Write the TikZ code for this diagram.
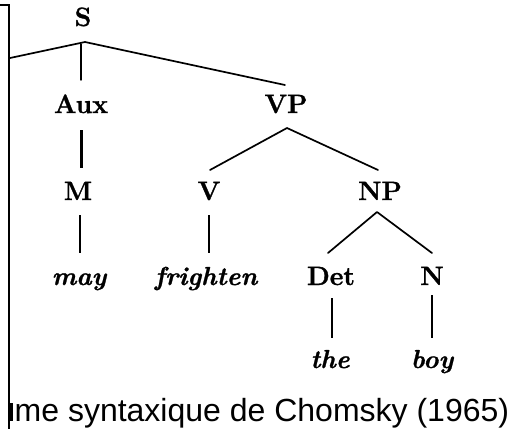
\documentclass[tikz,border=0pt]{standalone}
\usepackage{fontspec}
\newfontfamily\capfont{Liberation Sans}
\newfontfamily\treefont[BoldFeatures={FakeBold=1.2},BoldItalicFeatures={FakeBold=1.0}]{Latin Modern Roman}
\begin{document}
\begin{tikzpicture}[x=1pt,y=-1pt,
  cat/.style={anchor=base,inner sep=0pt,font=\fontsize{26.5}{30}\treefont\bfseries},
  word/.style={anchor=base,inner sep=0pt,font=\fontsize{26}{30}\treefont\bfseries\itshape},
  branch/.style={line width=1.7pt,line cap=round,line join=round},
  stem/.style={line width=2.2pt,line cap=butt},
  frame/.style={line width=1.5pt}]
\useasboundingbox (0,0) rectangle (511,429);
% frame at left
\coordinate (f0) at (0,5);
\coordinate (f1) at (9,5);
\coordinate (f2) at (9,429);
\draw[frame] (f0) -- (f1) -- (f2);
% nodes
\node[cat] (S) at (83,26) {S};
\node[cat] (Aux) at (81,113) {Aux};
\node[cat] (VP) at (286,113) {VP};
\node[cat] (M) at (78,200) {M};
\node[cat] (V) at (209,200) {V};
\node[cat] (NP) at (380,200) {NP};
\node[word] (may) at (79,285) {may};
\node[word] (fr) at (206,285) {frighten};
\node[cat] (Det) at (331,285) {Det};
\node[cat] (N) at (432,285) {N};
\node[word] (the) at (330,368) {the};
\node[word] (boy) at (432,368) {boy};
% junctions and line ends
\coordinate (Sl) at (10,58);
\coordinate (Sj) at (85,42);
\coordinate (SVP) at (285,85);
\coordinate (SAux) at (81,80);
\coordinate (SAuxT) at (81,44);
\coordinate (AuxB) at (81,130);
\coordinate (MT) at (81,168);
\coordinate (VPj) at (287,128);
\coordinate (VT) at (210,170);
\coordinate (NPT) at (378,170);
\coordinate (MB) at (80,215);
\coordinate (mayT) at (80,253);
\coordinate (VB) at (209,215);
\coordinate (frT) at (209,253);
\coordinate (NPj) at (377,212);
\coordinate (DetT) at (328,253);
\coordinate (NT) at (432,253);
\coordinate (DetB) at (332,298);
\coordinate (theT) at (332,338);
\coordinate (NB) at (432,295);
\coordinate (boyT) at (432,338);
% connectors
\draw[branch] (Sl) -- (Sj) -- (SVP);
\draw[branch,line width=1.4pt] (SAuxT) -- (SAux);
\draw[stem,line width=3pt] (AuxB) -- (MT);
\draw[branch] (VT) -- (VPj) -- (NPT);
\draw[stem] (MB) -- (mayT);
\draw[stem] (VB) -- (frT);
\draw[branch] (DetT) -- (NPj) -- (NT);
\draw[stem] (DetB) -- (theT);
\draw[stem,line width=2.6pt] (NB) -- (boyT);
% caption (the cut-off letter before it is a mere stroke)
\fill (10,403) rectangle (12.8,421);
\node[anchor=base west,inner sep=0pt,font=\fontsize{32}{36}\capfont] (cap) at (14.5,421) {me syntaxique de Chomsky (1965)};
\end{tikzpicture}
\end{document}
